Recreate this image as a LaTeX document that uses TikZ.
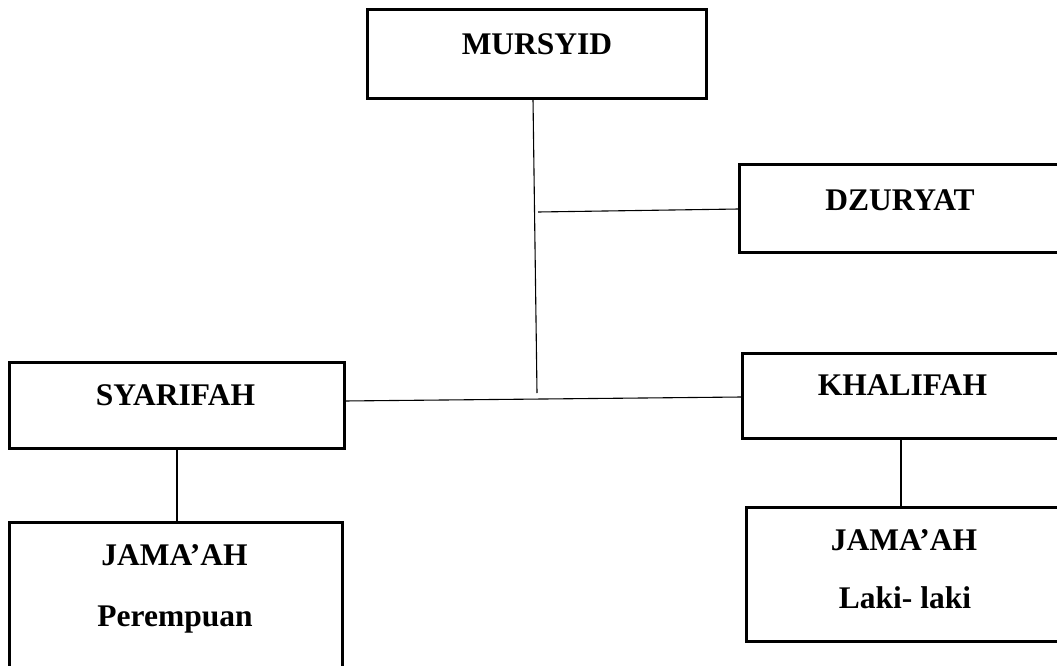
\documentclass[tikz,border=0pt]{standalone}
\usepackage{fontspec}
\setmainfont{Liberation Serif}
\begin{document}
\begin{tikzpicture}[x=1pt,y=-1pt,
  box/.style={draw=black,line width=3pt,rectangle,inner sep=0pt,outer sep=0pt},
  lbl/.style={anchor=base,inner sep=0pt,font=\fontsize{31.5}{36}\selectfont\bfseries},
  conn/.style={draw=black,line width=1.1pt}]
\useasboundingbox (0,0) rectangle (1057,666);
\clip (0,0) rectangle (1057,666);
\fill[white] (0,0) rectangle (1057,666);
% boxes
\node[box,minimum width=339pt,minimum height=89pt] (mursyid) at (536.5,54.5) {};
\node[box,minimum width=322pt,minimum height=88pt] (dzuryat) at (900,208) {};
\node[box,minimum width=335pt,minimum height=86pt] (syarifah) at (176.5,405) {};
\node[box,minimum width=321pt,minimum height=85pt] (khalifah) at (902.5,395.5) {};
\node[box,minimum width=333pt,minimum height=178pt] (jp) at (175.5,611) {};
\node[box,minimum width=316pt,minimum height=134pt] (jl) at (904,574) {};
% labels
\node[lbl] (tm) at (537,55) {MURSYID};
\node[lbl] (td) at (900,210) {DZURYAT};
\node[lbl] (ts) at (175.5,405) {SYARIFAH};
\node[lbl] (tk) at (902.5,395) {KHALIFAH};
\node[lbl] (tjp1) at (174.5,565) {JAMA’AH};
\node[lbl] (tjp2) at (175,626) {Perempuan};
\node[lbl] (tjl1) at (904,550) {JAMA’AH};
\node[lbl] (tjl2) at (905,608) {Laki- laki};
% connector points
\coordinate (m1) at (533,99);
\coordinate (j1) at (537,393);
\coordinate (d1) at (538,212);
\coordinate (d2) at (739,209);
\coordinate (s1) at (344,401);
\coordinate (k1) at (742,397);
\coordinate (s2) at (177,448);
\coordinate (p1) at (177,522);
\coordinate (k2) at (901,438);
\coordinate (l1) at (901,507);
% connectors
\draw[conn] (m1) -- (j1);
\draw[conn] (d1) -- (d2);
\draw[conn] (s1) -- (k1);
\draw[conn] (s2) -- (p1);
\draw[conn] (k2) -- (l1);
\end{tikzpicture}
\end{document}
